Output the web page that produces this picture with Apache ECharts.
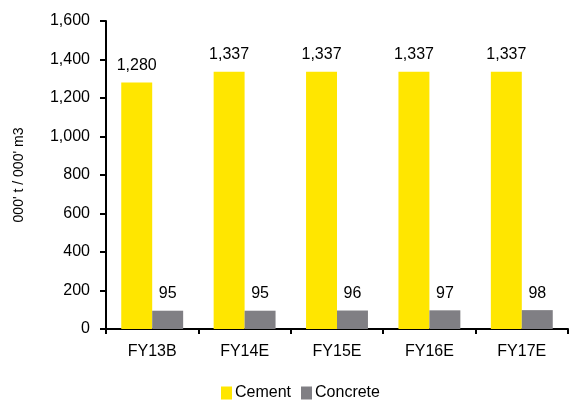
<!DOCTYPE html>
<html>
<head>
<meta charset="utf-8">
<script src="https://cdn.jsdelivr.net/npm/echarts@6/dist/echarts.min.js"></script>
<style>
	html, body { margin: 0; padding: 0; background: #fff; }
	#chart { width: 569px; height: 401px; }
</style>
</head>
<body>
<div id="chart"></div>
<script>
var categories = [ 'FY13B', 'FY14E', 'FY15E', 'FY16E', 'FY17E' ];
var cementValues = [ 1280, 1337, 1337, 1337, 1337 ];
var concreteValues = [ 95, 95, 96, 97, 98 ];
var yTicks = [ 0, 200, 400, 600, 800, 1000, 1200, 1400, 1600 ];

var FONT = 'Liberation Sans, Arial, sans-serif';

function fmt(v) {
	return String(v).replace(/\B(?=(\d{3})+(?!\d))/g, ',');
}

var myChart = echarts.init(document.getElementById('chart'));
var labelStyle = {
	show : true,
	position : 'top',
	distance : 9,
	color : '#000',
	fontFamily : FONT,
	fontSize : 16,
	formatter : function(p) {
		return fmt(p.value);
	}
};

var option = {
	animation : false,
	grid : {
		left : 106,
		right : 1,
		top : 21,
		bottom : 72
	},
	legend : {
		bottom : 0,
		left : 221,
		padding : 0,
		itemWidth : 11,
		itemHeight : 13,
		itemGap : 10,
		icon : 'rect',
		textStyle : {
			color : '#000',
			fontFamily : FONT,
			fontSize : 16,
			padding : [ 0, 0, 0, -2 ]
		},
		data : [ 'Cement', 'Concrete' ]
	},
	xAxis : {
		type : 'category',
		data : categories,
		axisLine : { lineStyle : { color : '#000', width : 2 } },
		axisTick : { show : true, length : 5, lineStyle : { color : '#000', width : 2 } },
		axisLabel : { color : '#000', fontFamily : FONT, fontSize : 16, margin : 15 }
	},
	yAxis : {
		type : 'value',
		min : yTicks[0],
		max : yTicks[yTicks.length - 1],
		interval : yTicks[1] - yTicks[0],
		name : "000' t / 000' m3",
		nameLocation : 'middle',
		nameGap : 80,
		nameTextStyle : { color : '#000', fontFamily : FONT, fontSize : 14 },
		splitLine : { show : false },
		axisLine : { show : true, lineStyle : { color : '#000', width : 2 } },
		axisTick : { show : true, length : 6, lineStyle : { color : '#000', width : 2 } },
		axisLabel : {
			color : '#000',
			fontFamily : FONT,
			fontSize : 16,
			margin : 16,
			formatter : function(v) {
				return fmt(v);
			}
		}
	},
	series : [ {
		name : 'Cement',
		type : 'bar',
		data : cementValues,
		barGap : '0%',
		barCategoryGap : '33%',
		itemStyle : { color : '#FFE600' },
		label : labelStyle
	}, {
		name : 'Concrete',
		type : 'bar',
		data : concreteValues,
		itemStyle : { color : '#807F84' },
		label : labelStyle
	} ]
};
myChart.setOption(option);
</script>
</body>
</html>
